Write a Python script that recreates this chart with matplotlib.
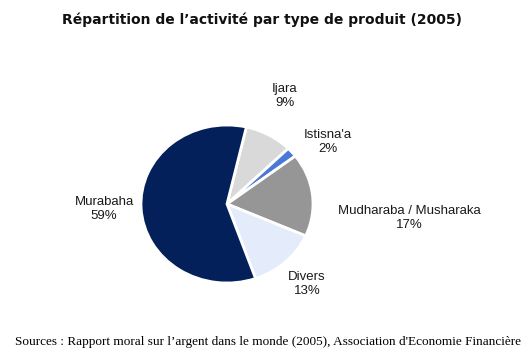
import numpy as np
import matplotlib.pyplot as plt

# data
labels = ["Ijara", "Istisna'a", "Mudharaba / Musharaka", "Divers", "Murabaha"]
values = [9, 2, 17, 13, 59]
colors = ["#d9d9d9", "#4a78d6", "#969696", "#e4ecfb", "#03205a"]

# label positions (pixels in the 527x357 image)
label_pos = [(285, 96), (328, 142), (409, 218), (307, 284), (104, 209)]

W, H = 527, 357
fig = plt.figure(figsize=(W / 100, H / 100), dpi=100)
fig.patch.set_facecolor("white")

# pie box, a bit wider than tall as in the picture
ax = fig.add_axes([141 / W, 1 - 283 / H, 172 / W, 158 / H])
ax.pie(values, colors=colors, startangle=77, counterclock=False,
       radius=1, wedgeprops=dict(edgecolor="white", linewidth=2))
ax.set_aspect("auto")
ax.set_xlim(-1.0, 1.0)
ax.set_ylim(-1.0, 1.0)
ax.axis("off")

for lab, v, (px, py) in zip(labels, values, label_pos):
    fig.text(px / W, 1 - py / H, f"{lab}\n{v}%", ha="center", va="center",
             fontsize=9.5, family="Liberation Sans", color="#1a1a1a",
             linespacing=1.2)

fig.text(262 / W, 1 - 20 / H, "Répartition de l\u2019activité par type de produit (2005)",
         ha="center", va="center", fontsize=10, fontweight="bold",
         family="DejaVu Sans", color="#111111")

fig.text(268 / W, 1 - 342 / H,
         "Sources : Rapport moral sur l\u2019argent dans le monde (2005), Association d'Economie Financière",
         ha="center", va="center", fontsize=9.5, family="Liberation Serif", color="black")

fig.savefig("out.png", dpi=100)
